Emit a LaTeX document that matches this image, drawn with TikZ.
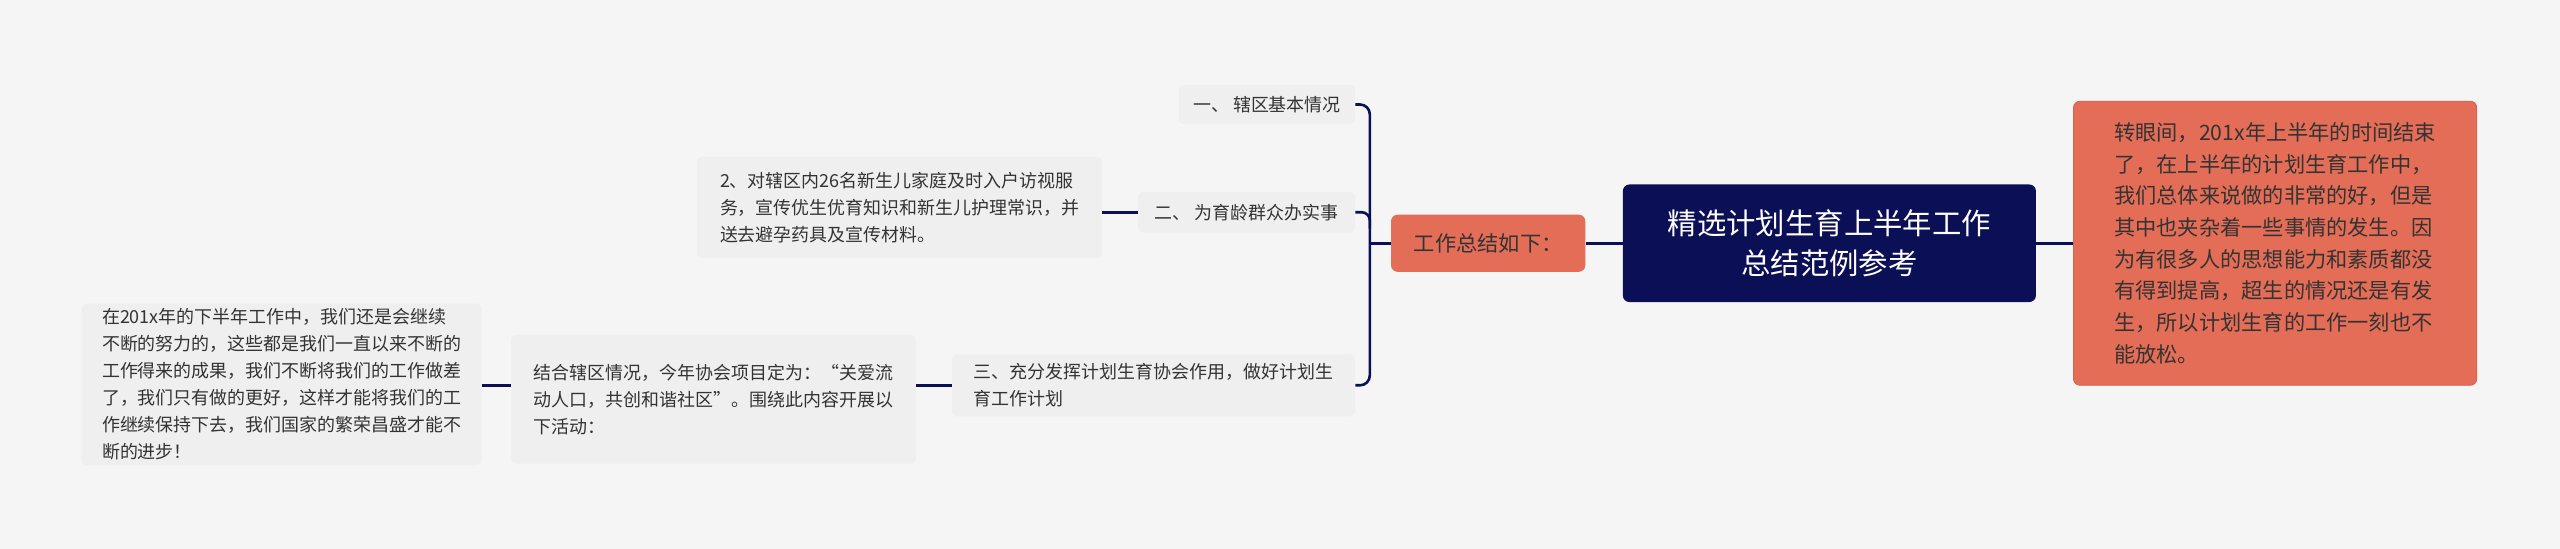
\documentclass[tikz,border=0pt]{standalone}
\usepackage{fontspec}
\setmainfont{Noto Sans CJK SC}
\definecolor{bg}{HTML}{F5F5F5}
\definecolor{navy}{HTML}{0B0F55}
\definecolor{salmon}{HTML}{E36D57}
\definecolor{sbord}{HTML}{D9614B}
\definecolor{leaf}{HTML}{EFEFEF}
\definecolor{txt}{HTML}{333333}
\begin{document}
\begin{tikzpicture}[x=1pt,y=-1pt,
  leafbox/.style={fill=leaf,rounded corners=3pt,inner sep=0pt,align=left,text=txt,font=\fontsize{11}{16.5}\selectfont,anchor=center},
  conn/.style={draw=navy,line width=1.6pt},
]
\fill[bg] (0,0) rectangle (1568,336);
\useasboundingbox (0,0) rectangle (1568,336);
\node[fill=navy,rounded corners=4pt,minimum width=253pt,minimum height=72pt,text=white,align=center,font=\fontsize{18}{25}\selectfont] (root) at (1120.5,149) {精选计划生育上半年工作\\总结范例参考};
\node[fill=salmon,draw=sbord,line width=0.5pt,rounded corners=4pt,minimum width=247pt,minimum height=174pt,text=txt,align=left,inner sep=0pt,font=\fontsize{13}{19.4}\selectfont] (note) at (1393.5,149) {转眼间，201x年上半年的时间结束\\了，在上半年的计划生育工作中，\\我们总体来说做的非常的好，但是\\其中也夹杂着一些事情的发生。因\\为有很多人的思想能力和素质都没\\有得到提高，超生的情况还是有发\\生，所以计划生育的工作一刻也不\\能放松。};
\node[fill=salmon,rounded corners=4pt,minimum width=119pt,minimum height=35pt,text=txt,font=\fontsize{13}{16}\selectfont] (sum) at (911.5,149) {工作总结如下：};
\node[leafbox,minimum width=108pt,minimum height=24pt,align=center] (c1) at (776,64) {一、 辖区基本情况};
\node[leafbox,minimum width=133pt,minimum height=25pt,align=center] (c2) at (763.5,130) {二、 为育龄群众办实事};
\node[leafbox,minimum width=248pt,minimum height=62pt] (c2a) at (551,127) {2、对辖区内26名新生儿家庭及时入户访视服\\务，宣传优生优育知识和新生儿护理常识，并\\送去避孕药具及宣传材料。};
\node[leafbox,minimum width=247pt,minimum height=38pt] (c3) at (706.5,236) {三、充分发挥计划生育协会作用，做好计划生\\育工作计划};
\node[leafbox,minimum width=248pt,minimum height=79pt] (c3a) at (437,244.5) {结合辖区情况，今年协会项目定为：“关爱流\\动人口，共创和谐社区”。围绕此内容开展以\\下活动：};
\node[leafbox,minimum width=245pt,minimum height=99pt] (c3b) at (172.5,235.5) {在201x年的下半年工作中，我们还是会继续\\不断的努力的，这些都是我们一直以来不断的\\工作得来的成果，我们不断将我们的工作做差\\了，我们只有做的更好，这样才能将我们的工\\作继续保持下去，我们国家的繁荣昌盛才能不\\断的进步！};
\coordinate (hub) at (839,149);
\draw[conn] (root.east) -- (note.west);
\draw[conn] (sum.east) -- (root.west);
\draw[conn] (sum.west) -- (hub);
\draw[conn,rounded corners=6pt] (c1.east) -- (839,64) -- (839,236) -- (c3.east);
\draw[conn,rounded corners=5pt] (c2.east) -- (839,130) -- (839,140);
\draw[conn] (c2a.east |- c2.east) -- (c2.west);
\draw[conn] (c3a.east |- c3.west) -- (c3.west);
\draw[conn] (c3b.east |- c3.west) -- (c3a.west |- c3.west);
\end{tikzpicture}
\end{document}
